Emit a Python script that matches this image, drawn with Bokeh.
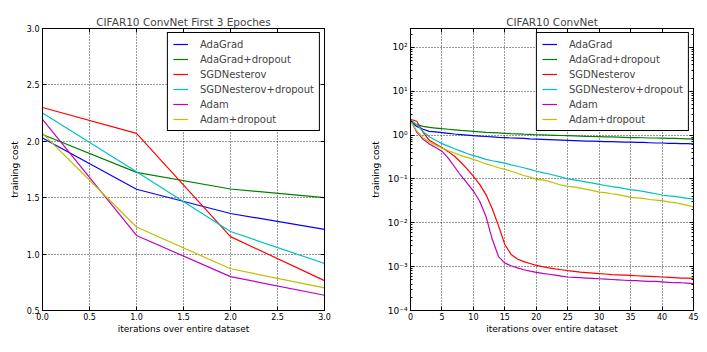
from bokeh.plotting import figure
from bokeh.layouts import row
from bokeh.models import (LinearAxis, LogAxis, FixedTicker, CustomJSTickFormatter,
                          PrintfTickFormatter, Range1d)
from bokeh.embed import file_html
from bokeh.resources import INLINE

FONT = "DejaVu Sans"

series_names = ["AdaGrad", "AdaGrad+dropout", "SGDNesterov",
                "SGDNesterov+dropout", "Adam", "Adam+dropout"]
series_colors = ["#0000ff", "#008000", "#ff0000", "#00bfbf", "#bf00bf", "#bfbf00"]

# ---- left panel: first 3 epochs ----
short_epochs = [0, 1, 2, 3]
short_adagrad = [2.03, 1.575, 1.36, 1.22]
short_adagrad_do = [2.06, 1.725, 1.577, 1.50]
short_sgd = [2.30, 2.07, 1.155, 0.765]
short_sgd_do = [2.25, 1.73, 1.20, 0.917]
short_adam = [2.195, 1.165, 0.80, 0.635]
short_adam_do = [2.07, 1.24, 0.87, 0.70]

# ---- right panel: 45 epochs ----
long_epochs = list(range(46))
long_adagrad = [2.03, 1.58, 1.36, 1.22, 1.18, 1.14, 1.10, 1.06, 1.03, 1.00, 0.97, 0.95,
                0.93, 0.91, 0.89, 0.88, 0.86, 0.85, 0.84, 0.82, 0.81, 0.80, 0.79, 0.78,
                0.77, 0.76, 0.75, 0.74, 0.73, 0.73, 0.72, 0.71, 0.71, 0.70, 0.69, 0.69,
                0.68, 0.68, 0.67, 0.66, 0.66, 0.65, 0.65, 0.64, 0.64, 0.63]
long_adagrad_do = [2.07, 1.73, 1.58, 1.50, 1.45, 1.40, 1.36, 1.32, 1.28, 1.25, 1.22, 1.19,
                   1.16, 1.14, 1.12, 1.10, 1.08, 1.07, 1.05, 1.04, 1.02, 1.01, 1.00, 0.99,
                   0.98, 0.97, 0.96, 0.95, 0.94, 0.93, 0.92, 0.91, 0.91, 0.90, 0.89, 0.88,
                   0.88, 0.87, 0.86, 0.86, 0.85, 0.84, 0.84, 0.83, 0.82, 0.82]
long_sgd = [2.30, 2.07, 1.16, 0.76, 0.63, 0.52, 0.42, 0.33, 0.24, 0.17, 0.115, 0.075,
            0.044, 0.021, 0.0085, 0.0032, 0.0019, 0.0015, 0.0013, 0.00118, 0.00107, 0.00100,
            0.00094, 0.00089, 0.00085, 0.00081, 0.00078, 0.00075, 0.00073, 0.00071, 0.00069,
            0.00068, 0.00066, 0.00065, 0.00064, 0.00063, 0.00062, 0.00061, 0.00060, 0.00059,
            0.00058, 0.00057, 0.00056, 0.00055, 0.00055, 0.00054]
long_sgd_do = [2.25, 1.73, 1.20, 0.92, 0.76, 0.64, 0.56, 0.49, 0.43, 0.38, 0.34, 0.31,
               0.28, 0.26, 0.245, 0.23, 0.21, 0.195, 0.18, 0.165, 0.15, 0.14, 0.13, 0.12,
               0.11, 0.10, 0.095, 0.09, 0.085, 0.08, 0.075, 0.071, 0.067, 0.064, 0.06, 0.057,
               0.055, 0.052, 0.049, 0.046, 0.043, 0.041, 0.04, 0.038, 0.036, 0.035]
long_adam = [2.20, 1.17, 0.80, 0.63, 0.52, 0.43, 0.30, 0.19, 0.12, 0.08, 0.053, 0.031,
             0.014, 0.0042, 0.0017, 0.0012, 0.00105, 0.00094, 0.00085, 0.00079, 0.00074,
             0.0007, 0.00067, 0.00064, 0.00061, 0.00058, 0.00057, 0.00056, 0.00055, 0.00054,
             0.00053, 0.00052, 0.00051, 0.0005, 0.00049, 0.00048, 0.00048, 0.00047, 0.00046,
             0.00046, 0.00045, 0.00044, 0.00043, 0.00043, 0.00042, 0.00041]
long_adam_do = [2.08, 1.24, 0.87, 0.70, 0.59, 0.51, 0.44, 0.39, 0.34, 0.31, 0.28, 0.25,
                0.22, 0.20, 0.18, 0.165, 0.15, 0.135, 0.12, 0.11, 0.098, 0.095, 0.088, 0.08,
                0.072, 0.068, 0.066, 0.062, 0.058, 0.054, 0.05, 0.049, 0.046, 0.044, 0.041,
                0.038, 0.037, 0.036, 0.034, 0.033, 0.032, 0.03, 0.029, 0.027, 0.025, 0.023]

# ---- ticks ----
left_x_ticks = [0.0, 0.5, 1.0, 1.5, 2.0, 2.5, 3.0]
left_y_ticks = [0.5, 1.0, 1.5, 2.0, 2.5, 3.0]
right_x_ticks = [0, 5, 10, 15, 20, 25, 30, 35, 40, 45]
right_y_ticks = [1e-4, 1e-3, 1e-2, 1e-1, 1e0, 1e1, 1e2]
right_y_labels = ["10\u207b\u2074", "10\u207b\u00b3", "10\u207b\u00b2", "10\u207b\u00b9",
                  "10\u2070", "10\u00b9", "10\u00b2"]
right_y_minor = [m * d for d in [1e-4, 1e-3, 1e-2, 1e-1, 1e0, 1e1, 1e2] for m in range(2, 10)]

blank = CustomJSTickFormatter(code="return ''")

FIG_H = 350


def style_axis(ax, labels=True):
    ax.axis_line_color = "black"
    ax.axis_line_width = 1
    ax.major_tick_in = 4
    ax.major_tick_out = 0
    ax.minor_tick_in = 2
    ax.minor_tick_out = 0
    ax.major_tick_line_color = "black"
    ax.minor_tick_line_color = "black"
    ax.major_label_text_font = FONT
    ax.major_label_text_font_size = "8px"
    ax.major_label_text_color = "black"
    ax.major_label_standoff = 3 if labels else 0
    ax.axis_label_text_font = FONT
    ax.axis_label_text_font_size = "9px"
    ax.axis_label_text_font_style = "normal"
    ax.axis_label_text_color = "black"


def make_fig(title, x_range, y_range, y_type, min_left, min_right, width):
    p = figure(width=width, height=FIG_H, x_range=x_range, y_range=y_range,
               y_axis_type=y_type, output_backend="svg", toolbar_location=None,
               min_border_left=min_left, min_border_right=min_right,
               min_border_top=28, min_border_bottom=FIG_H - 310, title=title)
    p.title.text_font = FONT
    p.title.text_font_size = "10.5px"
    p.title.text_font_style = "normal"
    p.title.align = "center"
    p.title.standoff = 2
    p.outline_line_color = "black"
    p.outline_line_width = 1
    p.background_fill_color = "white"
    p.border_fill_color = "white"
    for g in (p.xgrid[0], p.ygrid[0]):
        g.grid_line_color = "black"
        g.grid_line_dash = "1 2"
        g.grid_line_width = 1
        g.grid_line_alpha = 0.8
    return p


def finish(p, names_data, x):
    for (name, color, ys) in names_data:
        p.line(x, ys, line_color=color, line_width=1.2, legend_label=name)
    lg = p.legend[0]
    lg.location = "top_right"
    lg.margin = 4
    lg.padding = 5
    lg.spacing = 3
    lg.label_height = 12
    lg.glyph_height = 12
    lg.glyph_width = 15
    lg.label_standoff = 12
    lg.label_text_font = FONT
    lg.label_text_font_size = "10px"
    lg.border_line_color = "black"
    lg.border_line_width = 1
    lg.border_line_alpha = 1
    lg.background_fill_alpha = 1


# ---------------- left figure ----------------
p1 = make_fig("CIFAR10 ConvNet First 3 Epoches", Range1d(0, 3), Range1d(0.5, 3.0),
              "linear", 42, 26, 350)
xt1 = FixedTicker(ticks=left_x_ticks)
yt1 = FixedTicker(ticks=left_y_ticks)
p1.xaxis[0].ticker = xt1
p1.yaxis[0].ticker = yt1
p1.xgrid[0].ticker = xt1
p1.ygrid[0].ticker = yt1
p1.xaxis[0].formatter = PrintfTickFormatter(format="%.1f")
p1.yaxis[0].formatter = PrintfTickFormatter(format="%.1f")
p1.xaxis[0].axis_label = "iterations over entire dataset"
p1.yaxis[0].axis_label = "training cost"
style_axis(p1.xaxis[0])
style_axis(p1.yaxis[0])
p1.xaxis[0].major_label_standoff = 2
p1.xaxis[0].axis_label_standoff = 1
p1.yaxis[0].axis_label_standoff = 4
top1 = LinearAxis(ticker=xt1, formatter=blank)
right1 = LinearAxis(ticker=yt1, formatter=blank)
style_axis(top1, False)
style_axis(right1, False)
p1.add_layout(top1, "above")
p1.add_layout(right1, "right")
finish(p1, zip(series_names, series_colors,
               [short_adagrad, short_adagrad_do, short_sgd, short_sgd_do, short_adam, short_adam_do]),
       short_epochs)

# ---------------- right figure ----------------
p2 = make_fig("CIFAR10 ConvNet", Range1d(0, 45), Range1d(1e-4, 270),
              "log", 60, 13, 356)
xt2 = FixedTicker(ticks=right_x_ticks)
yt2 = FixedTicker(ticks=right_y_ticks, minor_ticks=right_y_minor)
p2.xaxis[0].ticker = xt2
p2.yaxis[0].ticker = yt2
p2.xgrid[0].ticker = xt2
p2.ygrid[0].ticker = yt2
p2.yaxis[0].formatter = CustomJSTickFormatter(
    args=dict(tick_vals=right_y_ticks, tick_labels=right_y_labels),
    code="""
let best = 0, bd = Infinity;
for (let i = 0; i < tick_vals.length; i++) {
  const d = Math.abs(Math.log10(tick) - Math.log10(tick_vals[i]));
  if (d < bd) { bd = d; best = i; }
}
return tick_labels[best];
""")
p2.xaxis[0].axis_label = "iterations over entire dataset"
p2.yaxis[0].axis_label = "training cost"
style_axis(p2.xaxis[0])
style_axis(p2.yaxis[0])
p2.yaxis[0].major_label_text_font_size = "9px"
p2.xaxis[0].major_label_standoff = 2
p2.xaxis[0].axis_label_standoff = 1
p2.yaxis[0].axis_label_standoff = 4
top2 = LinearAxis(ticker=xt2, formatter=blank)
right2 = LogAxis(ticker=yt2, formatter=blank)
style_axis(top2, False)
style_axis(right2, False)
p2.add_layout(top2, "above")
p2.add_layout(right2, "right")
finish(p2, zip(series_names, series_colors,
               [long_adagrad, long_adagrad_do, long_sgd, long_sgd_do, long_adam, long_adam_do]),
       long_epochs)

layout = row(p1, p2)
open("out.html", "w").write(file_html(layout, INLINE))
